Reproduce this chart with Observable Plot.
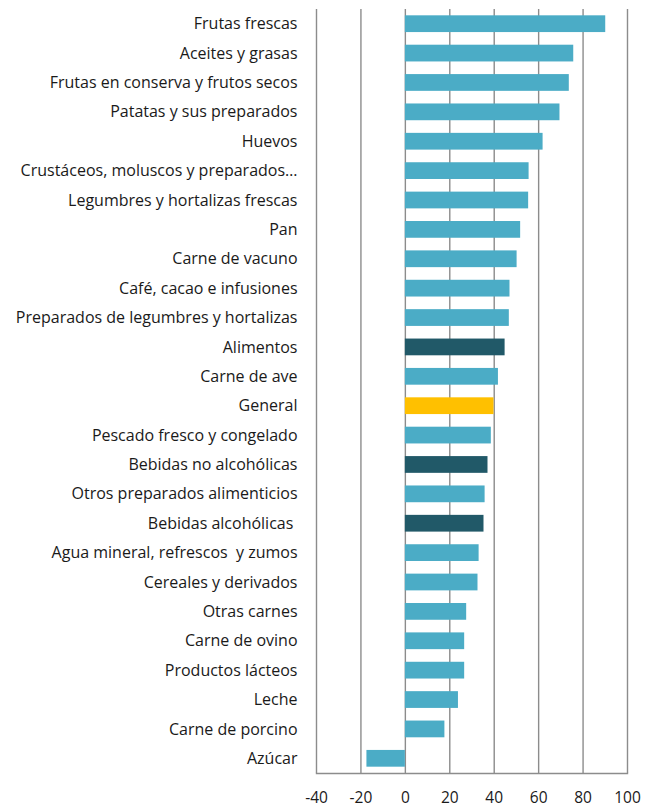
<!DOCTYPE html>
<html>
<head>
<meta charset="utf-8">
<script src="https://cdn.jsdelivr.net/npm/d3@7"></script>
<script src="https://cdn.jsdelivr.net/npm/@observablehq/plot@0.6"></script>
<style>
  html, body { margin: 0; padding: 0; background: #fff; }
</style>
</head>
<body>
<div id="chart"></div>
<script>
const categories = [
  "Frutas frescas",
  "Aceites y grasas",
  "Frutas en conserva y frutos secos",
  "Patatas y sus preparados",
  "Huevos",
  "Crustáceos, moluscos y preparados…",
  "Legumbres y hortalizas frescas",
  "Pan",
  "Carne de vacuno",
  "Café, cacao e infusiones",
  "Preparados de legumbres y hortalizas",
  "Alimentos",
  "Carne de ave",
  "General",
  "Pescado fresco y congelado",
  "Bebidas no alcohólicas",
  "Otros preparados alimenticios",
  "Bebidas alcohólicas ",
  "Agua mineral, refrescos  y zumos",
  "Cereales y derivados",
  "Otras carnes",
  "Carne de ovino",
  "Productos lácteos",
  "Leche",
  "Carne de porcino",
  "Azúcar"
];
const values = [
  90.2, 75.8, 73.8, 69.6, 62.0, 55.7, 55.5, 51.9, 50.3, 47.1, 46.8, 44.9, 41.9,
  39.9, 38.7, 37.2, 35.9, 35.4, 33.2, 32.7, 27.6, 26.7, 26.7, 23.9, 17.8, -17.3
];
// group: "item" (light), "aggregate" (dark), "general" (yellow)
const groups = [
  "item","item","item","item","item","item","item","item","item","item","item",
  "aggregate","item","general","item","aggregate","item","aggregate",
  "item","item","item","item","item","item","item","item"
];
const xTicks = [-40, -20, 0, 20, 40, 60, 80, 100];

const data = categories.map((c, i) => ({category: c, value: values[i], group: groups[i]}));

const chart = Plot.plot({
  width: 656,
  height: 808,
  marginLeft: 316,
  marginRight: 29,
  marginTop: 9,
  marginBottom: 35,
  style: {fontFamily: "'Open Sans', sans-serif", fontSize: "16px", color: "#1a1a1a", background: "#fff"},
  x: {domain: [-40, 100], ticks: xTicks},
  y: {domain: categories, paddingInner: 0.43, paddingOuter: 0.215, round: false},
  color: {domain: ["item", "aggregate", "general"], range: ["#4BACC6", "#215968", "#FFC000"]},
  marks: [
    Plot.ruleX(xTicks, {stroke: "#8c8c8c", strokeWidth: 1.4, strokeOpacity: 1}),
    Plot.barX(data, {y: "category", x: "value", fill: "group"}),
    Plot.frame({anchor: "bottom", stroke: "#8c8c8c", strokeWidth: 1.4}),
    Plot.axisX(xTicks, {tickSize: 0, tickPadding: 18, fontSize: 15.5, label: null, tickFormat: d => String(d)}),
    Plot.axisY({tickSize: 0, tickPadding: 19, fontSize: 16, label: null})
  ]
});
document.getElementById("chart").appendChild(chart);
</script>
</body>
</html>
